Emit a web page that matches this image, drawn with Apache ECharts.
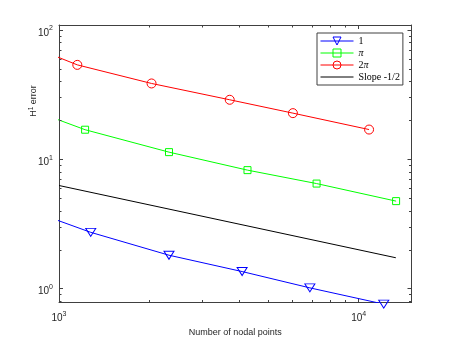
<!DOCTYPE html>
<html>
<head>
<meta charset="utf-8">
<script src="https://cdn.jsdelivr.net/npm/echarts@6/dist/echarts.min.js"></script>
<style>html,body{margin:0;padding:0;background:#fff}#c{width:455px;height:341px}</style>
</head>
<body>
<div id="c"></div>
<script>
// ---- data ----
const seriesNames = ['1', 'π', '2π', 'Slope -1/2'];
const blueX  = [708, 1276, 2328, 4083, 6871, 12119];
const blueY  = [4.46, 2.72, 1.81, 1.353, 1.012, 0.758];
const greenX = [708, 1222, 2328, 4255, 7235, 13326];
const greenY = [27.0, 16.9, 11.34, 8.23, 6.48, 4.74];
const redX   = [708, 1151, 2036, 3712, 6031, 10826];
const redY   = [84.0, 53.6, 38.5, 28.8, 22.7, 16.95];
const slopeX = [1000, 13300];
const slopeY = [6.26, 1.73];
const xMin = 1000, xMax = 15000;
const yMin = 0.78, yMax = 109;
const minorX = [2000, 3000, 4000, 5000, 6000, 7000, 8000, 9000];
const minorY = [0.8, 0.9, 2, 3, 4, 5, 6, 7, 8, 9, 20, 30, 40, 50, 60, 70, 80, 90];

const colors = ['#0000ff', '#00ff00', '#ff0000', '#000000'];
const AX = '#404040';
const SANS = 'Liberation Sans';
const pairs = (xs, ys) => xs.map((x, i) => [x, ys[i]]);
const inside = (xs, ys) => pairs(xs, ys).filter(p => p[0] >= xMin && p[0] <= xMax);

function powLabel(v) {
  const e = Math.log10(v);
  const r = Math.round(e);
  if (Math.abs(e - r) > 1e-6) return '';
  return '{b|10}{s|' + r + '}';
}
const labelRich = {
  b: { fontSize: 10, fontFamily: SANS, color: '#262626', lineHeight: 16 },
  s: { fontSize: 7, fontFamily: SANS, color: '#262626', lineHeight: 7, verticalAlign: 'top' }
};

const chart = echarts.init(document.getElementById('c'), null, { renderer: 'canvas' });

function lineSeries(name, xs, ys, color, symbol, size, rotate, bw) {
  return {
    name, type: 'line', data: pairs(xs, ys), xAxisIndex: 0, yAxisIndex: 0,
    showSymbol: false, symbol: symbol, symbolSize: size, symbolRotate: rotate || 0,
    clip: true, silent: true,
    lineStyle: { color: color, width: 1 },
    itemStyle: { color: 'rgba(0,0,0,0)', borderColor: bw ? color : 'rgba(0,0,0,0)', borderWidth: bw },
    emphasis: { disabled: true }, z: 3
  };
}
function markerSeries(xs, ys, color, symbol, size, rotate) {
  return {
    name: 'm' + color, type: 'scatter', data: inside(xs, ys), clip: false, silent: true,
    symbol: symbol, symbolSize: size, symbolRotate: rotate || 0,
    itemStyle: { color: 'rgba(0,0,0,0)', borderColor: color, borderWidth: 1, opacity: 1 },
    emphasis: { disabled: true }, z: 4
  };
}
function minorTicks(data, dir) {
  return {
    type: 'custom', data: data, clip: false, silent: true, z: 5,
    renderItem: function (params, api) {
      const cs = params.coordSys;
      const L = 2.5;
      const st = { stroke: AX, lineWidth: 1 };
      if (dir === 'x') {
        const px = Math.round(api.coord([api.value(0), 1])[0]) + 0.5;
        const b = cs.y + cs.height, t = cs.y;
        return { type: 'group', children: [
          { type: 'line', shape: { x1: px, y1: b, x2: px, y2: b - L }, style: st },
          { type: 'line', shape: { x1: px, y1: t, x2: px, y2: t + L }, style: st }
        ] };
      } else {
        const py = Math.round(api.coord([2000, api.value(1)])[1]) + 0.5;
        const l = cs.x, r = cs.x + cs.width;
        return { type: 'group', children: [
          { type: 'line', shape: { x1: l, y1: py, x2: l + L, y2: py }, style: st },
          { type: 'line', shape: { x1: r, y1: py, x2: r - L, y2: py }, style: st }
        ] };
      }
    }
  };
}

const baseAxisLine = { show: true, lineStyle: { color: AX, width: 1 } };
const tick = { show: true, inside: true, length: 4, lineStyle: { color: AX, width: 1 } };

chart.setOption({
  animation: false,
  backgroundColor: '#ffffff',
  grid: { left: 59, right: 43.5, top: 25, bottom: 38.5, outerBoundsMode: 'none', containLabel: false },
  xAxis: [
    { type: 'log', logBase: 10, min: xMin, max: xMax, position: 'bottom',
      axisLine: baseAxisLine, axisTick: tick, splitLine: { show: false }, minorTick: { show: false },
      axisLabel: { margin: 8, formatter: powLabel, rich: labelRich, showMinLabel: true, showMaxLabel: true, hideOverlap: false },
      name: 'Number of nodal points', nameLocation: 'middle', nameGap: 15,
      nameTextStyle: { fontSize: 9, fontFamily: SANS, color: '#262626' } },
    { type: 'log', logBase: 10, min: xMin, max: xMax, position: 'top',
      axisLine: baseAxisLine, axisTick: tick, axisLabel: { show: false }, splitLine: { show: false } }
  ],
  yAxis: [
    { type: 'log', logBase: 10, min: yMin, max: yMax, position: 'left',
      axisLine: baseAxisLine, axisTick: tick, splitLine: { show: false }, minorTick: { show: false },
      axisLabel: { margin: 6, formatter: powLabel, rich: labelRich, padding: [6, 0, 0, 0], hideOverlap: false } },
    { type: 'log', logBase: 10, min: yMin, max: yMax, position: 'right',
      axisLine: baseAxisLine, axisTick: tick, axisLabel: { show: false }, splitLine: { show: false } }
  ],
  legend: {
    data: seriesNames,
    orient: 'vertical', left: 317, top: 33,
    padding: [3, 3, 3, 3], itemGap: 2, itemWidth: 33, itemHeight: 10,
    backgroundColor: '#ffffff', borderColor: AX, borderWidth: 1, borderRadius: 0,
    selectedMode: false,
    itemStyle: { borderWidth: 'inherit' },
    lineStyle: { width: 'inherit' },
    textStyle: { fontFamily: 'Liberation Serif', fontSize: 10, color: '#000',
      rich: { i: { fontFamily: 'Liberation Serif', fontStyle: 'italic', fontSize: 10, color: '#000' },
              n: { fontFamily: 'Liberation Serif', fontSize: 10, color: '#000' } } },
    formatter: function (name) {
      return name.indexOf('π') >= 0 ? name.split('π').map(s => s ? '{n|' + s + '}' : '').join('{i|π}') : name;
    }
  },
  graphic: [
    { type: 'text', x: 34, y: 101, rotation: Math.PI / 2, silent: true,
      style: { text: '{b|H}{s|1}{b| error}', align: 'center', verticalAlign: 'middle',
        rich: { b: { fontSize: 9, fontFamily: SANS, fill: '#262626', color: '#262626', lineHeight: 13 },
                s: { fontSize: 6.5, fontFamily: SANS, fill: '#262626', color: '#262626', lineHeight: 6, verticalAlign: 'top' } } } }
  ],
  series: [
    lineSeries(seriesNames[0], blueX, blueY, colors[0], 'triangle', [10, 8], 180, 1),
    lineSeries(seriesNames[1], greenX, greenY, colors[1], 'rect', 7, 0, 1),
    lineSeries(seriesNames[2], redX, redY, colors[2], 'circle', 9, 0, 1),
    lineSeries(seriesNames[3], slopeX, slopeY, colors[3], 'circle', 0, 0, 0),
    markerSeries(blueX, blueY, colors[0], 'triangle', [10, 8], 180),
    markerSeries(greenX, greenY, colors[1], 'rect', 7),
    markerSeries(redX, redY, colors[2], 'circle', 9),
    minorTicks(minorX.map(v => [v, 1]), 'x'),
    minorTicks(minorY.map(v => [2000, v]), 'y')
  ]
});
</script>
</body>
</html>
